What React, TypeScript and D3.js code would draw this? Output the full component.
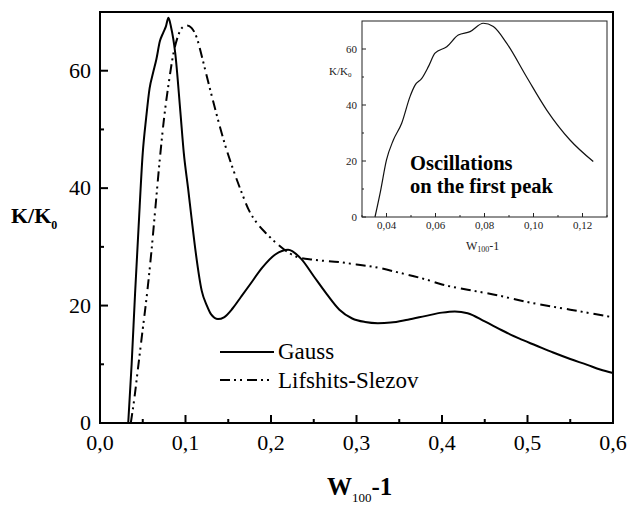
import React from "react";
import * as d3 from "d3";

const gaussX = [0.033,0.037,0.041,0.045,0.050,0.054,0.058,0.062,0.066,0.070,0.074,0.077,0.080,0.083,0.088,0.094,0.098,0.103,0.107,0.112,0.119,0.125,0.130,0.138,0.145,0.155,0.165,0.175,0.190,0.205,0.220,0.235,0.250,0.265,0.280,0.295,0.310,0.325,0.340,0.360,0.380,0.400,0.415,0.430,0.450,0.470,0.490,0.510,0.530,0.550,0.570,0.585,0.600];
const gaussY = [0,10,22,33,46,52,57,59.6,62,65,66.5,67.5,69,67.5,63,53,46,40,35,29,22.5,20,18.5,17.7,18,19.5,21.5,23.5,26.5,28.7,29.5,28,25,22,19.3,17.8,17.2,17,17.1,17.6,18.2,18.8,19,18.7,17.3,15.8,14.4,13.2,12,10.9,9.9,9.1,8.5];

const lsX = [0.036,0.040,0.045,0.050,0.055,0.060,0.065,0.070,0.075,0.080,0.086,0.091,0.096,0.102,0.107,0.113,0.119,0.125,0.135,0.146,0.155,0.165,0.175,0.185,0.195,0.205,0.215,0.230,0.250,0.280,0.300,0.320,0.350,0.380,0.400,0.430,0.460,0.500,0.550,0.600];
const lsY = [0,4,10,16,22,29,37,45,52,57.5,63,65.8,67.3,67.7,67.3,65.7,62.5,59,53.3,47.5,43.5,39.5,36,33.8,32.2,30.8,29.6,28.3,27.8,27.4,27,26.6,25.6,24.5,23.6,22.7,21.9,20.6,19.3,18];

const insetX = [0.0353,0.0375,0.040,0.0428,0.0462,0.0496,0.0516,0.0544,0.0571,0.0598,0.0646,0.0693,0.0741,0.0795,0.0836,0.0891,0.0972,0.1054,0.1149,0.1244];
const insetY = [0,9,20.4,27.5,33.5,43,47,49.5,53.7,58.5,60.8,65,66.2,69.2,68,62,50,38.2,27.5,19.8];

const xTicks = [0,0.1,0.2,0.3,0.4,0.5,0.6];
const xTickLabels = ["0,0","0,1","0,2","0,3","0,4","0,5","0,6"];
const xMinor = [0.05,0.15,0.25,0.35,0.45,0.55];
const yTicks = [0,20,40,60];
const yMinor = [10,30,50];
const insetXTicks = [0.04,0.06,0.08,0.10,0.12];
const insetXLabels = ["0,04","0,06","0,08","0,10","0,12"];
const insetXMinor = [0.03,0.05,0.07,0.09,0.11,0.13];
const insetYTicks = [0,20,40,60];
const insetYMinor = [10,30,50];

const FONT = '"Liberation Serif"';
const fs = { fontFamily: FONT };

export default function App() {
  const x = d3.scaleLinear().domain([0, 0.6]).range([100, 613]);
  const y = d3.scaleLinear().domain([0, 70]).range([423, 12]);
  const ix = d3.scaleLinear().domain([0.03, 0.13]).range([362, 607]);
  const iy = d3.scaleLinear().domain([0, 70]).range([217, 21]);

  const line = d3.line<[number, number]>().x(d => x(d[0])).y(d => y(d[1])).curve(d3.curveMonotoneX);
  const iline = d3.line<[number, number]>().x(d => ix(d[0])).y(d => iy(d[1])).curve(d3.curveMonotoneX);

  const gauss = gaussX.map((v, i) => [v, gaussY[i]] as [number, number]);
  const ls = lsX.map((v, i) => [v, lsY[i]] as [number, number]);
  const ins = insetX.map((v, i) => [v, insetY[i]] as [number, number]);
  const dash = "10,4,2,4,2,5";

  return (
    <svg width={630} height={505} style={{ position: "absolute", left: 0, top: 0, background: "#fff" }}>
      <rect x={0} y={0} width={630} height={505} fill="#fff" />
      <path d={line(ls) || ""} fill="none" stroke="#000" strokeWidth={2} strokeDasharray={dash} />
      <path d={line(gauss) || ""} fill="none" stroke="#000" strokeWidth={2} />
      <rect x={100} y={12} width={513} height={411} fill="none" stroke="#000" strokeWidth={2} />
      {xTicks.map((t, i) => (
        <g key={"xt" + i}>
          <line x1={x(t)} x2={x(t)} y1={423} y2={415} stroke="#000" strokeWidth={2} />
          <text x={x(t)} y={450} fontSize={22} textAnchor="middle" style={fs}>{xTickLabels[i]}</text>
        </g>
      ))}
      {xMinor.map((t, i) => (
        <line key={"xm" + i} x1={x(t)} x2={x(t)} y1={423} y2={419} stroke="#000" strokeWidth={2} />
      ))}
      {yTicks.map((t, i) => (
        <g key={"yt" + i}>
          <line x1={100} x2={108} y1={y(t)} y2={y(t)} stroke="#000" strokeWidth={2} />
          <text x={91} y={y(t) + 7} fontSize={22} textAnchor="end" style={fs}>{t}</text>
        </g>
      ))}
      {yMinor.map((t, i) => (
        <line key={"ym" + i} x1={100} x2={104} y1={y(t)} y2={y(t)} stroke="#000" strokeWidth={2} />
      ))}
      <text x={11} y={223} fontSize={22} fontWeight="bold" style={fs}>K/K<tspan fontSize={12} dy={6}>0</tspan></text>
      <text x={327} y={495} fontSize={25} fontWeight="bold" style={fs}>W<tspan fontSize={13} dy={7} fontWeight="normal">100</tspan><tspan dy={-7}>-1</tspan></text>
      <line x1={220} x2={274} y1={352} y2={352} stroke="#000" strokeWidth={2} />
      <text x={278} y={359} fontSize={23} style={fs}>Gauss</text>
      <line x1={220} x2={272} y1={380} y2={380} stroke="#000" strokeWidth={2} strokeDasharray={dash} />
      <text x={278} y={388} fontSize={23} style={fs}>Lifshits-Slezov</text>
      <g>
        <path d={iline(ins) || ""} fill="none" stroke="#111" strokeWidth={1.2} />
        <rect x={362} y={21} width={245} height={196} fill="none" stroke="#222" strokeWidth={1} />
        {insetXTicks.map((t, i) => (
          <g key={"ixt" + i}>
            <line x1={ix(t)} x2={ix(t)} y1={217} y2={213} stroke="#222" />
            <text x={ix(t)} y={229} fontSize={11} textAnchor="middle" fill="#222" style={fs}>{insetXLabels[i]}</text>
          </g>
        ))}
        {insetXMinor.map((t, i) => (
          <line key={"ixm" + i} x1={ix(t)} x2={ix(t)} y1={217} y2={215} stroke="#222" />
        ))}
        {insetYTicks.map((t, i) => (
          <g key={"iyt" + i}>
            <line x1={362} x2={366} y1={iy(t)} y2={iy(t)} stroke="#222" />
            <text x={357} y={iy(t) + 4} fontSize={11} textAnchor="end" fill="#222" style={fs}>{t}</text>
          </g>
        ))}
        {insetYMinor.map((t, i) => (
          <line key={"iym" + i} x1={362} x2={364} y1={iy(t)} y2={iy(t)} stroke="#222" />
        ))}
        <text x={329} y={75} fontSize={11} fill="#222" style={fs}>K/K<tspan fontSize={7} dy={2}>0</tspan></text>
        <text x={466} y={250} fontSize={12} fill="#222" style={fs}>W<tspan fontSize={8} dy={2}>100</tspan><tspan dy={-2}>-1</tspan></text>
        <text x={410} y={170} fontSize={20.5} fontWeight="bold" style={fs}>Oscillations</text>
        <text x={410} y={193} fontSize={20.5} fontWeight="bold" style={fs}>on the first peak</text>
      </g>
    </svg>
  );
}
